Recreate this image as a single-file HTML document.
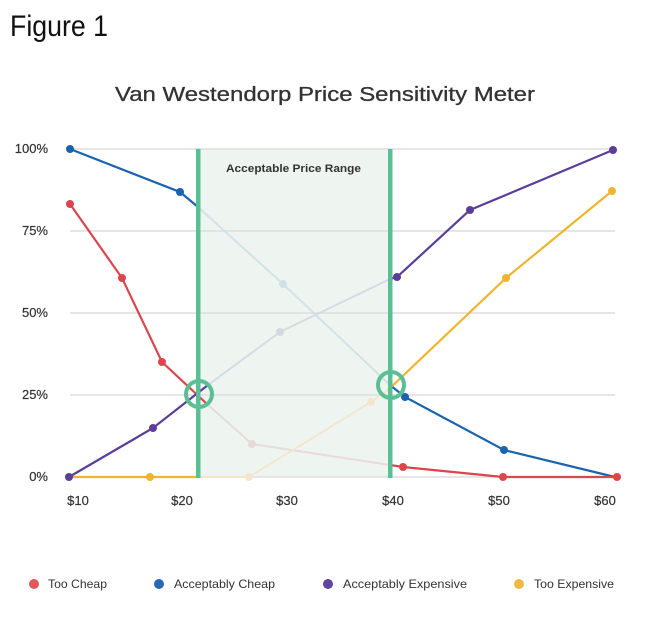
<!DOCTYPE html>
<html><head><meta charset="utf-8"><style>
body{margin:0;background:#fff;}
svg{display:block;}
text{font-family:"Liberation Sans",sans-serif;}
</style></head><body>
<svg width="650" height="627" viewBox="0 0 650 627" xmlns="http://www.w3.org/2000/svg">
<text x="10" y="36" font-size="30" fill="#111" textLength="98" lengthAdjust="spacingAndGlyphs">Figure 1</text>
<text x="115" y="101" font-size="20" fill="#333" textLength="420" lengthAdjust="spacingAndGlyphs" stroke="#333" stroke-width="0.3">Van Westendorp Price Sensitivity Meter</text>
<rect x="198" y="149" width="192" height="328" fill="#eef5f1"/>
<g stroke="#dddddd" stroke-width="1.5">
<line x1="70" y1="149" x2="615" y2="149"/><line x1="70" y1="231" x2="615" y2="231"/><line x1="70" y1="313" x2="615" y2="313"/><line x1="70" y1="395" x2="615" y2="395"/><line x1="70" y1="477" x2="615" y2="477"/>
</g>
<g font-size="13" fill="#333" text-anchor="end" stroke="#333" stroke-width="0.2">
<text x="48" y="153">100%</text><text x="48" y="235">75%</text><text x="48" y="317">50%</text><text x="48" y="399">25%</text><text x="48" y="481">0%</text>
</g>
<g font-size="13" fill="#333" text-anchor="middle" stroke="#333" stroke-width="0.2">
<text x="78" y="505">$10</text><text x="182" y="505">$20</text><text x="287" y="505">$30</text><text x="393" y="505">$40</text><text x="499" y="505">$50</text><text x="605" y="505">$60</text>
</g>
<text x="226" y="172" font-size="11" font-weight="bold" fill="#333" textLength="135" lengthAdjust="spacingAndGlyphs">Acceptable Price Range</text>
<g fill="none" stroke-width="2" opacity="0.9">
<polyline points="198,207 283,284 392,387" stroke="#cfe0e8"/>
<polyline points="207,404 252,444 390,465" stroke="#e8d9d8"/>
<polyline points="208,385 280,332 390,279" stroke="#d4d9e0"/>
<polyline points="198,477 249,477 371,402 388,390" stroke="#f4e6cc"/>
</g>
<g fill="#cfe0e8"><circle cx="283" cy="284" r="4"/></g>
<g fill="#e8d9d8"><circle cx="252" cy="444" r="4"/></g>
<g fill="#d4d9e0"><circle cx="280" cy="332" r="4"/></g>
<g fill="#f4e6cc"><circle cx="249" cy="477" r="4"/><circle cx="371" cy="402" r="4"/></g>
<g fill="none" stroke-width="2.2">
<polyline points="70,149 180,192 198,207" stroke="#1a63b0"/>
<polyline points="390,385 405,397 504,450 615,477" stroke="#1a63b0"/>
<polyline points="70,204 122,278 162,362 207,404" stroke="#d9474d"/>
<polyline points="390,465 403,467 503,477 617,477" stroke="#d9474d"/>
<polyline points="69,477 153,428 208,385" stroke="#5b3d9a"/>
<polyline points="390,279 397,277 470,210 613,150" stroke="#5b3d9a"/>
<polyline points="70,477 198,477" stroke="#f0b52e"/>
<polyline points="388,390 506,278 612,191" stroke="#f0b52e"/>
</g>
<g fill="#1a63b0"><circle cx="70" cy="149" r="4"/><circle cx="180" cy="192" r="4"/><circle cx="405" cy="397" r="4"/><circle cx="504" cy="450" r="4"/></g>
<g fill="#d9474d"><circle cx="70" cy="204" r="4"/><circle cx="122" cy="278" r="4"/><circle cx="162" cy="362" r="4"/><circle cx="403" cy="467" r="4"/><circle cx="503" cy="477" r="4"/><circle cx="617" cy="477" r="4"/></g>
<g fill="#5b3d9a"><circle cx="69" cy="477" r="4"/><circle cx="153" cy="428" r="4"/><circle cx="397" cy="277" r="4"/><circle cx="470" cy="210" r="4"/><circle cx="613" cy="150" r="4"/></g>
<g fill="#f0b52e"><circle cx="150" cy="477" r="4"/><circle cx="506" cy="278" r="4"/><circle cx="612" cy="191" r="4"/></g>
<rect x="196" y="149" width="4.5" height="329" fill="#5bbf95"/>
<rect x="388" y="149" width="4.5" height="329" fill="#5bbf95"/>
<circle cx="199" cy="394" r="13" fill="none" stroke="#5bbf95" stroke-width="4"/>
<circle cx="391" cy="385" r="13" fill="none" stroke="#5bbf95" stroke-width="4"/>
<g font-size="12" fill="#333">
<circle cx="34" cy="584" r="5" fill="#e0575c"/><text x="48" y="588" textLength="59" lengthAdjust="spacingAndGlyphs">Too Cheap</text>
<circle cx="159" cy="584" r="5" fill="#2a68b5"/><text x="174" y="588" textLength="101" lengthAdjust="spacingAndGlyphs">Acceptably Cheap</text>
<circle cx="328" cy="584" r="5" fill="#5e45a0"/><text x="343" y="588" textLength="124" lengthAdjust="spacingAndGlyphs">Acceptably Expensive</text>
<circle cx="519" cy="584" r="5" fill="#f2b940"/><text x="534" y="588" textLength="80" lengthAdjust="spacingAndGlyphs">Too Expensive</text>
</g>
</svg>
</body></html>
